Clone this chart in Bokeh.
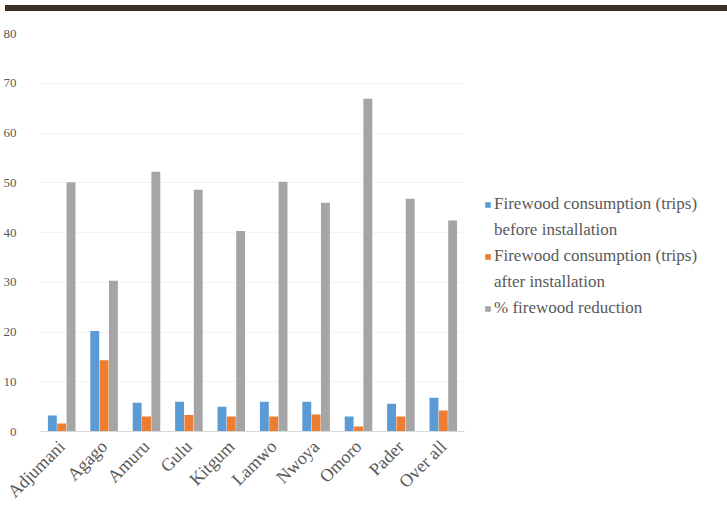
from bokeh.plotting import figure
from bokeh.models import ColumnDataSource, Legend, LegendItem, FactorRange, Range1d, Div
from bokeh.transform import dodge
from bokeh.layouts import column
from bokeh.embed import file_html
from bokeh.resources import INLINE

districts = ["Adjumani", "Agago", "Amuru", "Gulu", "Kitgum", "Lamwo", "Nwoya", "Omoro", "Pader", "Over all"]
before = [3.2, 20.2, 5.8, 6.0, 5.0, 6.0, 6.0, 3.0, 5.6, 6.8]
after = [1.6, 14.3, 3.0, 3.3, 3.0, 3.0, 3.4, 1.0, 3.0, 4.2]
reduction = [50.1, 30.3, 52.2, 48.6, 40.3, 50.2, 46.0, 66.9, 46.8, 42.4]
legend_lines = [
    ["Firewood consumption (trips)", "before installation"],
    ["Firewood consumption (trips)", "after installation"],
    ["% firewood reduction"],
]
y_ticks = [0, 10, 20, 30, 40, 50, 60, 70, 80]

src = ColumnDataSource(dict(d=districts, b=before, a=after, r=reduction))

p = figure(x_range=FactorRange(*districts), y_range=Range1d(0, 80),
           frame_width=424, frame_height=398, output_backend="svg", toolbar_location=None,
           min_border_top=17, min_border_bottom=6, min_border_left=0, min_border_right=0,
           background_fill_color="#ffffff", border_fill_color="#ffffff")
p.outline_line_color = None

r1 = p.vbar(x=dodge("d", -0.22, range=p.x_range), top="b", width=0.21, source=src,
            fill_color="#5b9bd5", line_color=None)
r2 = p.vbar(x=dodge("d", 0.0, range=p.x_range), top="a", width=0.21, source=src,
            fill_color="#ed7d31", line_color=None)
r3 = p.vbar(x=dodge("d", 0.22, range=p.x_range), top="r", width=0.21, source=src,
            fill_color="#a5a5a5", line_color=None)
blank = p.vbar(x=[], top=[], width=0.2, fill_alpha=0, line_alpha=0)

p.xgrid.grid_line_color = None
p.ygrid.grid_line_color = "#f3f3f3"
p.yaxis.ticker = y_ticks
p.yaxis.axis_line_color = None
p.yaxis.major_tick_line_color = None
p.yaxis.minor_tick_line_color = None
p.yaxis.major_label_standoff = 18
p.yaxis.major_label_text_font = "Liberation Serif"
p.yaxis.major_label_text_font_size = "13px"
p.yaxis.major_label_text_color = "#595959"

p.xaxis.axis_line_color = "#d9d9d9"
p.xaxis.major_tick_line_color = None
p.xaxis.minor_tick_line_color = None
p.xaxis.major_label_orientation = 0.785
p.xaxis.major_label_standoff = 6
p.xaxis.major_label_text_font = "Liberation Serif"
p.xaxis.major_label_text_font_size = "18px"
p.xaxis.major_label_text_color = "#595959"

items = []
for rend, lines in zip([r1, r2, r3], legend_lines):
    items.append(LegendItem(label=lines[0], renderers=[rend]))
    for extra in lines[1:]:
        items.append(LegendItem(label=extra, renderers=[blank]))

legend = Legend(items=items, location=(20, 113))
legend.border_line_color = None
legend.background_fill_alpha = 0
legend.margin = 16
legend.padding = 4
legend.glyph_width = 7
legend.glyph_height = 7
legend.label_height = 20
legend.label_standoff = 3
legend.spacing = 6
legend.label_text_font = "Liberation Serif"
legend.label_text_font_size = "17px"
legend.label_text_color = "#595959"
p.add_layout(legend, "right")

bar = Div(height=6, sizing_mode="stretch_width", styles={"background-color": "#3e3027"})
layout = column(bar, p, spacing=0)

open("out.html", "w").write(file_html(layout, INLINE))
